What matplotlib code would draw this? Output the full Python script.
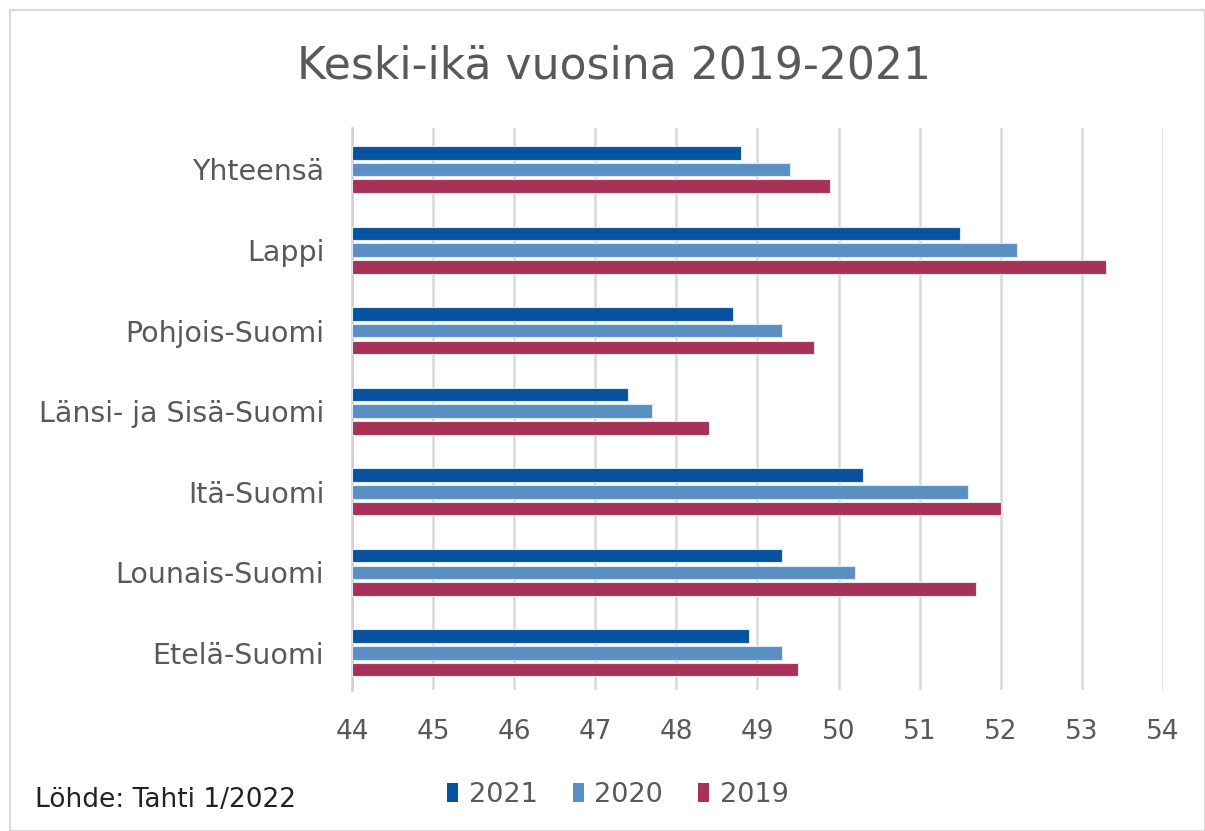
import numpy as np
import matplotlib.pyplot as plt
from matplotlib.patches import Rectangle, Patch

# ── Data ──────────────────────────────────────────
regions = ['Yhteensä', 'Lappi', 'Pohjois-Suomi', 'Länsi- ja Sisä-Suomi',
           'Itä-Suomi', 'Lounais-Suomi', 'Etelä-Suomi']
years = ['2021', '2020', '2019']
age_2021 = [48.8, 51.5, 48.7, 47.4, 50.3, 49.3, 48.9]
age_2020 = [49.4, 52.2, 49.3, 47.7, 51.6, 50.2, 49.3]
age_2019 = [49.9, 53.3, 49.7, 48.4, 52.0, 51.7, 49.5]
xticks = list(range(44, 55))

colors = ['#0753a0', '#5a8fc4', '#a83157']
text_col = '#595959'

plt.rcParams['font.family'] = ['DejaVu Sans']

fig = plt.figure(figsize=(12.05, 8.31), dpi=100)
ax = fig.add_axes([352 / 1205, 1 - 690 / 831, (1163 - 352) / 1205, (690 - 128) / 831])

y = np.arange(len(regions))
pitch = 0.208
height = 0.168
base = 44
for k, (vals, col, lab) in enumerate(zip([age_2021, age_2020, age_2019], colors, years)):
    vals = np.array(vals)
    ax.barh(y + (k - 1) * pitch, vals - base, left=base, height=height,
            color=col, edgecolor='#dfe7f0', linewidth=0.8, label=lab, zorder=3)

ax.set_xlim(44, 54)
ax.set_ylim(6.46, -0.515)
ax.set_xticks(xticks)
ax.set_xticklabels([str(t) for t in xticks], fontsize=19, color=text_col)
ax.set_yticks(y)
ax.set_yticklabels(regions, fontsize=20.5, color=text_col)
ax.tick_params(axis='both', length=0)
ax.tick_params(axis='x', pad=21)
ax.tick_params(axis='y', pad=20)
ax.grid(axis='x', color='#d9d9d9', linewidth=1.8, zorder=0)
ax.set_axisbelow(True)
for s in ['top', 'right', 'bottom']:
    ax.spines[s].set_visible(False)
ax.spines['left'].set_color('#d0d0d0')
ax.spines['left'].set_linewidth(1.8)

fig.text(614 / 1205, 1 - 66 / 831, 'Keski-ikä vuosina 2019-2021', ha='center',
         va='center', fontsize=31.8, color=text_col)

handles = [Patch(facecolor=c, edgecolor='none') for c in colors]
fig.legend(handles, years, loc='center', bbox_to_anchor=(618 / 1205, 1 - 795 / 831),
           ncol=3, frameon=False, fontsize=19.5, handlelength=0.4, handleheight=0.75,
           handletextpad=0.4, columnspacing=1.3, labelcolor=text_col)

fig.text(35 / 1205, 1 - 800 / 831, 'Löhde: Tahti 1/2022', ha='left', va='center',
         fontsize=19, color='#222222')

fig.patches.append(Rectangle((10 / 1205, 0), 1 - 10 / 1205, 1 - 10 / 831,
                             transform=fig.transFigure, fill=False,
                             edgecolor='#d9d9d9', linewidth=1.5))

fig.savefig('out.png', dpi=100)
